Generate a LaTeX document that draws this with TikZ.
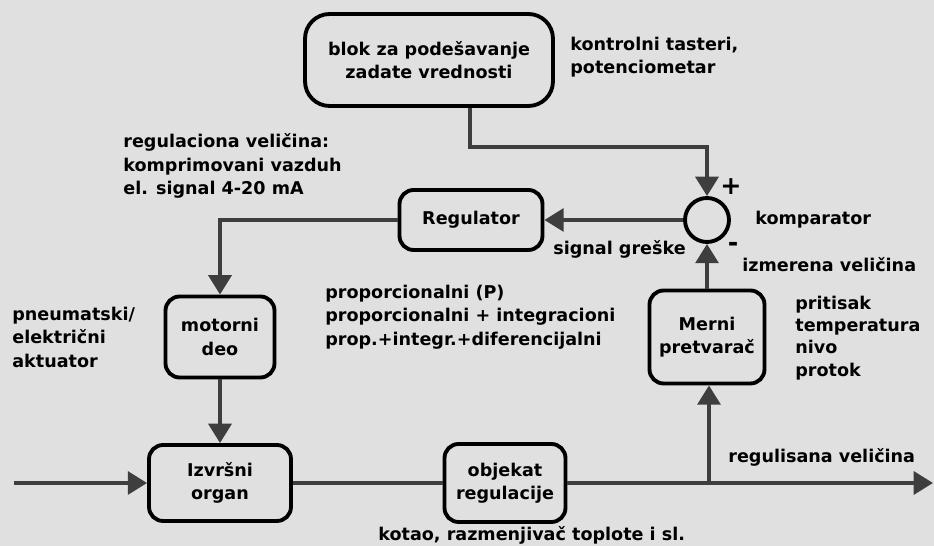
\documentclass[tikz,border=0pt]{standalone}
\usepackage{fontspec}
\setmainfont{DejaVu Sans}
\usetikzlibrary{arrows.meta}
\definecolor{pozadina}{RGB}{224,224,224}
\definecolor{zica}{RGB}{62,62,62}
\tikzset{
  blok/.style={shape=rectangle,draw=black,line width=2.2pt,rounded corners=8pt,
    align=center,font=\bfseries\fontsize{10}{13.4}\selectfont,inner sep=0pt},
  opis/.style={align=left,font=\bfseries\fontsize{10}{13.4}\selectfont,inner sep=0pt,anchor=west},
  veza/.style={draw=zica,line width=2.2pt,-{Triangle[length=11pt,width=13pt]}},
  linija/.style={draw=zica,line width=2.2pt}
}
\begin{document}
\begin{tikzpicture}[x=0.02cm,y=-0.02cm]
            \fill[pozadina] (0,0) rectangle (934,546);
            \useasboundingbox (0,0) rectangle (934,546);
            \node (zadavanje) at (429,60) [blok,rounded corners=14pt,minimum width=4.96cm,minimum height=1.84cm] {blok za podešavanje\\zadate vrednosti};
            \node (regulator) at (471,220) [blok,minimum width=2.86cm,minimum height=1.2cm] {Regulator};
            \node (komp) at (707,220) [shape=circle,draw=black,line width=2.2pt,minimum size=0.88cm,inner sep=0pt] {};
            \node (motorni) at (220,337) [blok,minimum width=2.18cm,minimum height=1.62cm] {motorni\\deo};
            \node (merni) at (707,337) [blok,minimum width=2.3cm,minimum height=1.86cm] {Merni\\pretvarač};
            \node (izvrsni) at (220,483) [blok,minimum width=2.84cm,minimum height=1.52cm] {Izvršni\\organ};
            \node (objekat) at (505,483) [blok,minimum width=2.42cm,minimum height=1.56cm] {objekat\\regulacije};
            \coordinate (ugao) at (470,147);
            \coordinate (ulaz) at (14,483);
            \coordinate (grana) at (709,483);
            \coordinate (izlaz) at (933,483);
            \node (tasteri) at (570,57) [opis] {kontrolni tasteri,\\potenciometar};
            \node (velicina) at (123,166) [opis] {regulaciona veličina:\\komprimovani vazduh\\el. signal 4-20 mA};
            \node (aktuator) at (12,337) [opis] {pneumatski/\\električni\\aktuator};
            \node (zakoni) at (325,317) [opis] {proporcionalni (P)\\proporcionalni + integracioni\\prop.+integr.+diferencijalni};
            \node (fizicke) at (795,338) [opis,font=\bfseries\fontsize{10}{12.6}\selectfont] {pritisak\\temperatura\\nivo\\protok};
            \node (kompopis) at (755,220) [opis] {komparator};
            \node (greska) at (553,249) [opis] {signal greške};
            \node (izmerena) at (742,265) [opis] {izmerena veličina};
            \node (plus) at (731,187) [font=\bfseries\Large,inner sep=0pt] {+};
            \node (minus) at (733,247) [font=\bfseries\Large,inner sep=0pt] {-};
            \node (regulisana) at (728,457) [opis] {regulisana veličina};
            \node (kotao) at (378,535) [opis] {kotao, razmenjivač toplote i sl.};
            \draw[veza] (ugao |- zadavanje.south) -- (ugao) -| (komp.north);
            \draw[veza] (komp.west) -- (regulator.east);
            \draw[veza] (regulator.west) -| (motorni.north);
            \draw[veza] (motorni.south) -- (izvrsni.north);
            \draw[veza] (ulaz) -- (izvrsni.west);
            \draw[linija] (izvrsni.east) -- (objekat.west);
            \draw[veza] (objekat.east) -- (izlaz);
            \draw[veza] (grana) -- (grana |- merni.south);
            \draw[veza] (merni.north) -- (komp.south);
        \end{tikzpicture}
\end{document}
